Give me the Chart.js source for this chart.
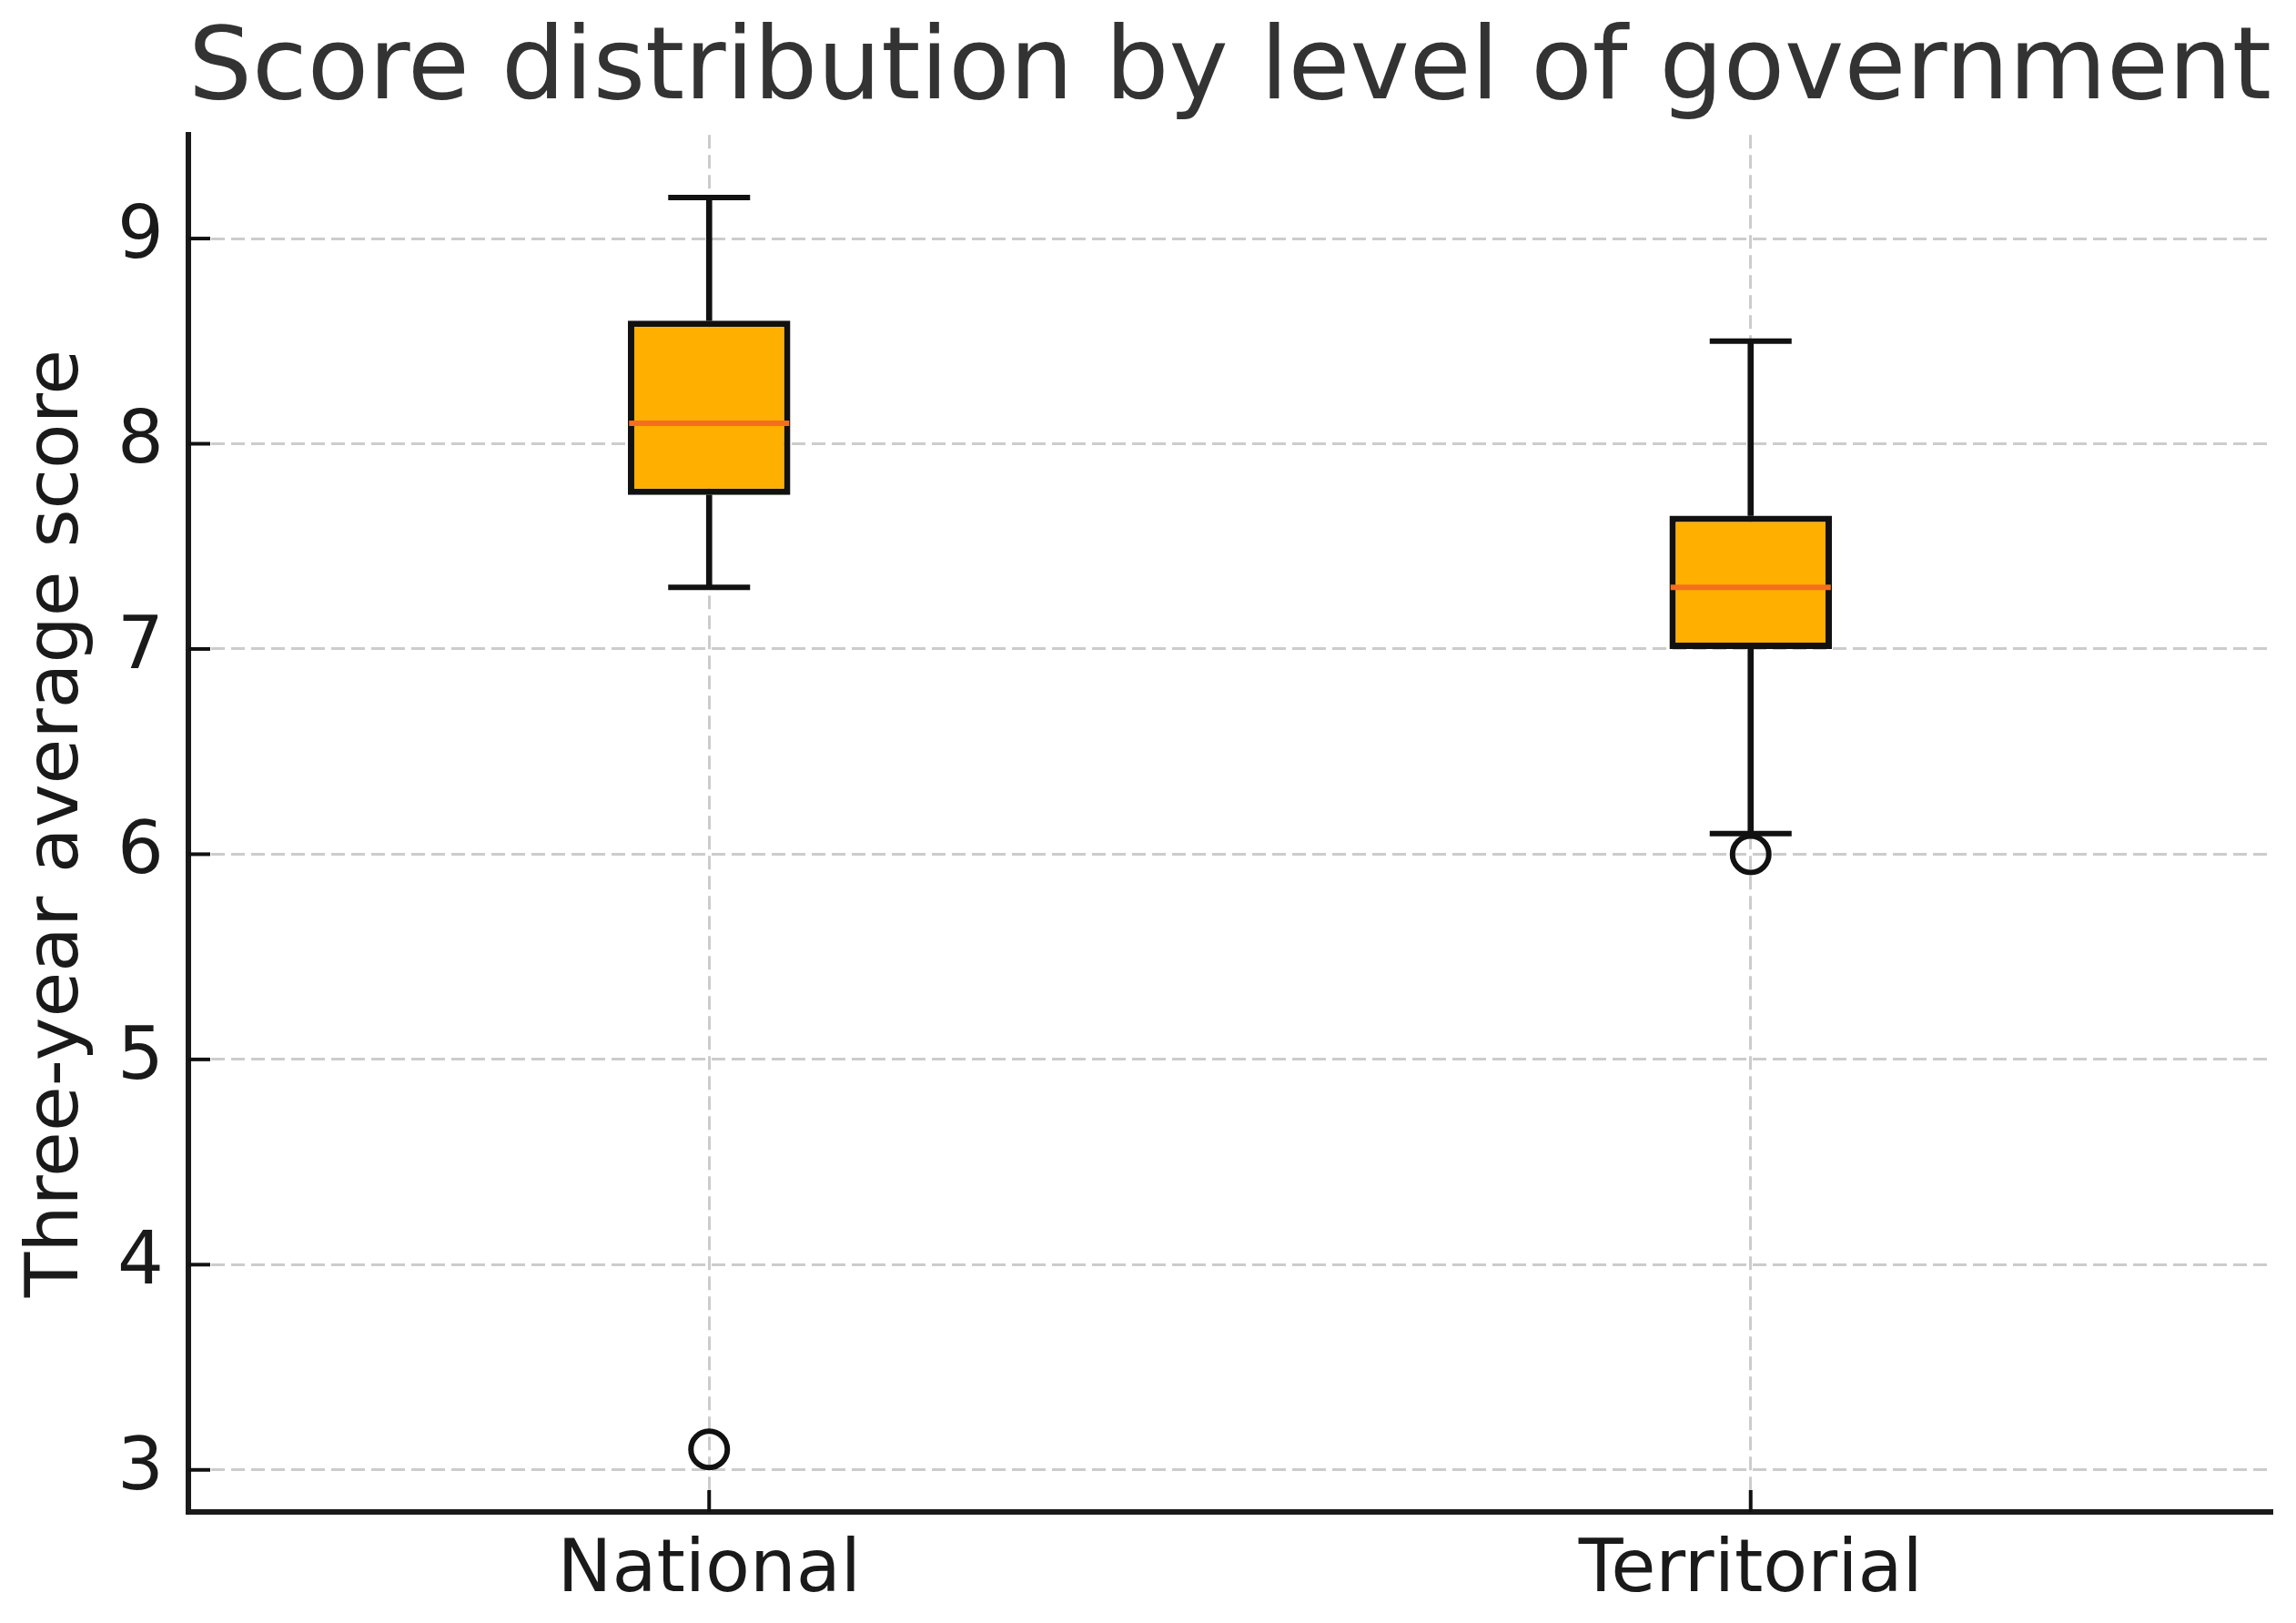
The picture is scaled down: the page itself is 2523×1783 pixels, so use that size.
<!DOCTYPE html>
<html>
<head>
<meta charset="utf-8">
<script src="https://cdn.jsdelivr.net/npm/chart.js@4.4.1/dist/chart.umd.min.js"></script>
<style>
  html, body { margin: 0; padding: 0; background: #fff; overflow: hidden; }
  #wrap { width: 2523px; height: 1783px; position: relative; }
</style>
</head>
<body>
<div id="wrap"><canvas id="boxChart"></canvas></div>
<script>
// box plot data
var levels = ["National", "Territorial"];
var whiskerLow = [7.3, 6.1];
var q1 = [7.75, 7.0];
var median = [8.1, 7.3];
var q3 = [8.6, 7.65];
var whiskerHigh = [9.2, 8.5];
var outliers = [[3.1], [6.0]];
var yTicks = [3, 4, 5, 6, 7, 8, 9];

var boxFill = "#FFAF00";
var medianColor = "#F26F21";
var ink = "#111111";

function pts(vals) {
  return vals.map((v, i) => ({ x: levels[i], y: v }));
}
var outlierPts = [];
outliers.forEach((list, i) => list.forEach(v => outlierPts.push({ x: levels[i], y: v })));

// matplotlib style inward tick marks
const innerTicks = {
  id: "innerTicks",
  afterDraw(chart) {
    const ctx = chart.ctx;
    const xs = chart.scales.x, ys = chart.scales.y;
    ctx.save();
    ctx.strokeStyle = ink;
    ctx.lineWidth = 4;
    ys.ticks.forEach((t, i) => {
      const y = ys.getPixelForTick(i);
      ctx.beginPath();
      ctx.moveTo(xs.left, y);
      ctx.lineTo(xs.left + 24, y);
      ctx.stroke();
    });
    xs.ticks.forEach((t, i) => {
      const x = xs.getPixelForTick(i);
      ctx.beginPath();
      ctx.moveTo(x, ys.bottom);
      ctx.lineTo(x, ys.bottom - 24);
      ctx.stroke();
    });
    ctx.restore();
  }
};

new Chart("boxChart", {
  type: "bar",
  data: {
    labels: levels,
    datasets: [{
      // box Q1..Q3
      type: "bar",
      data: q1.map((v, i) => [v, q3[i]]),
      backgroundColor: boxFill,
      borderColor: ink,
      borderWidth: 7,
      borderSkipped: false,
      barPercentage: 0.156,
      categoryPercentage: 1,
      grouped: false,
      order: 3
    }, {
      // upper whisker
      type: "bar",
      data: q3.map((v, i) => [v, whiskerHigh[i]]),
      backgroundColor: ink,
      barThickness: 6,
      grouped: false,
      order: 5
    }, {
      // lower whisker
      type: "bar",
      data: whiskerLow.map((v, i) => [v, q1[i]]),
      backgroundColor: ink,
      barThickness: 6,
      grouped: false,
      order: 5
    }, {
      // caps
      type: "line",
      data: pts(whiskerHigh).concat(pts(whiskerLow)),
      showLine: false,
      pointStyle: "line",
      pointRadius: 45,
      borderColor: ink,
      pointBorderWidth: 6,
      order: 2
    }, {
      // medians
      type: "line",
      data: pts(median),
      showLine: false,
      pointStyle: "line",
      pointRadius: 88,
      borderColor: medianColor,
      pointBorderWidth: 6,
      order: 1
    }, {
      // outliers
      type: "line",
      data: outlierPts,
      showLine: false,
      pointStyle: "circle",
      pointRadius: 20,
      pointBackgroundColor: "rgba(0,0,0,0)",
      borderColor: ink,
      pointBorderWidth: 6,
      order: 1
    }]
  },
  options: {
    responsive: true,
    maintainAspectRatio: false,
    devicePixelRatio: 1,
    animation: false,
    layout: {
      autoPadding: false,
      padding: { left: 0, right: 27, top: 0, bottom: 0 }
    },
    plugins: {
      legend: { display: false },
      tooltip: { enabled: false },
      title: {
        display: true,
        text: "Score distribution by level of government",
        fullSize: false,
        color: "#333333",
        font: { family: "DejaVu Sans", size: 111, weight: "normal", lineHeight: 1.2 },
        padding: { top: 13, bottom: 2 }
      }
    },
    scales: {
      x: {
        type: "category",
        offset: true,
        grid: {
          offset: false,
          color: "#cccccc",
          lineWidth: 3,
          drawTicks: false
        },
        border: { display: true, color: "#1a1a1a", width: 6, dash: [15, 7] },
        ticks: {
          color: "#1a1a1a",
          padding: 18,
          font: { family: "DejaVu Sans", size: 80 }
        },
        afterFit: (scale) => { scale.height = 122; }
      },
      y: {
        min: 2.795,
        max: 9.505,
        afterBuildTicks: (scale) => { scale.ticks = yTicks.map(v => ({ value: v })); },
        grid: {
          color: "#cccccc",
          lineWidth: 3,
          drawTicks: false
        },
        border: { display: true, color: "#1a1a1a", width: 6, dash: [15, 7] },
        ticks: {
          color: "#1a1a1a",
          padding: 27,
          font: { family: "DejaVu Sans", size: 80 }
        },
        title: {
          display: true,
          text: "Three-year average score",
          color: "#1a1a1a",
          font: { family: "DejaVu Sans", size: 81 },
          padding: { top: 15, bottom: 4 }
        },
        afterFit: (scale) => { scale.width = 207; }
      }
    }
  },
  plugins: [innerTicks]
});
</script>
</body>
</html>
